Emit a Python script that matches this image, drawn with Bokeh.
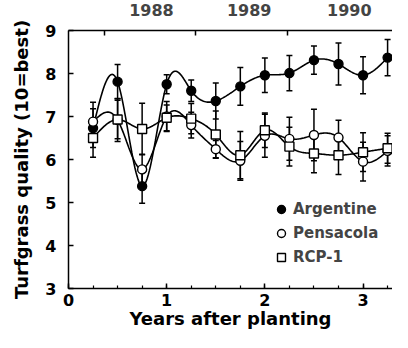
import numpy as np
from bokeh.plotting import figure
from bokeh.models import (LinearAxis, FixedTicker, SingleIntervalTicker, Whisker, TeeHead,
                          ColumnDataSource, Legend, LegendItem, Range1d)
from bokeh.embed import file_html
from bokeh.resources import INLINE

# ---- data ----
years = [0.25, 0.5, 0.75, 1.0, 1.25, 1.5, 1.75, 2.0, 2.25, 2.5, 2.75, 3.0, 3.25]
argentine = [6.73, 7.81, 5.38, 7.75, 7.60, 7.36, 7.70, 7.96, 8.01, 8.31, 8.22, 7.96, 8.37]
argentine_err = [0.45, 0.40, 0.40, 0.22, 0.25, 0.42, 0.44, 0.40, 0.41, 0.33, 0.49, 0.43, 0.42]
pensacola = [6.88, 6.92, 5.77, 7.00, 6.80, 6.24, 5.97, 6.55, 6.48, 6.57, 6.51, 5.95, 6.20]
pensacola_err = [0.45, 0.50, 0.35, 0.35, 0.30, 0.20, 0.45, 0.50, 0.50, 0.60, 0.40, 0.45, 0.35]
rcp1 = [6.50, 6.93, 6.71, 6.97, 6.95, 6.58, 6.10, 6.68, 6.30, 6.14, 6.10, 6.17, 6.26]
rcp1_err = [0.45, 0.45, 0.60, 0.30, 0.35, 0.55, 0.55, 0.40, 0.45, 0.45, 0.45, 0.45, 0.35]

year_label_pos = [0.845, 1.84, 2.86]
year_labels = ["1988", "1989", "1990"]
year_bounds = [0.37, 1.29, 2.23]

FONT = "DejaVu Sans"


def natural_spline(xs, ys, per=24):
    xs = np.asarray(xs, float)
    ys = np.asarray(ys, float)
    n = len(xs)
    h = np.diff(xs)
    A = np.zeros((n - 2, n - 2))
    r = np.zeros(n - 2)
    for i in range(1, n - 1):
        A[i - 1, i - 1] = 2 * (h[i - 1] + h[i])
        if i - 2 >= 0:
            A[i - 1, i - 2] = h[i - 1]
        if i < n - 2:
            A[i - 1, i] = h[i]
        r[i - 1] = 6 * ((ys[i + 1] - ys[i]) / h[i] - (ys[i] - ys[i - 1]) / h[i - 1])
    M = np.zeros(n)
    M[1:-1] = np.linalg.solve(A, r)
    outx, outy = [], []
    for i in range(n - 1):
        t = np.linspace(xs[i], xs[i + 1], per, endpoint=(i == n - 2))
        a = xs[i + 1] - t
        b = t - xs[i]
        y = (M[i] * a ** 3 + M[i + 1] * b ** 3) / (6 * h[i]) \
            + (ys[i] / h[i] - M[i] * h[i] / 6) * a + (ys[i + 1] / h[i] - M[i + 1] * h[i] / 6) * b
        outx.extend(t)
        outy.extend(y)
    return outx, outy


p = figure(width=392, height=332, x_range=Range1d(0, 3.3), y_range=Range1d(3, 9),
           output_backend="svg", toolbar_location=None,
           min_border_left=68, min_border_right=0, min_border_top=29, min_border_bottom=44)
p.outline_line_color = None
p.xgrid.visible = False
p.ygrid.visible = False
p.background_fill_color = "white"
p.border_fill_color = "white"

# bottom axis
xa = p.xaxis[0]
xa.ticker = SingleIntervalTicker(interval=1, num_minor_ticks=4)
xa.axis_label = "Years after planting"
yax = p.yaxis[0]
yax.ticker = SingleIntervalTicker(interval=1, num_minor_ticks=0)
yax.axis_label = "Turfgrass quality (10=best)"
for ax in (xa, yax):
    ax.axis_line_width = 1.5
    ax.axis_line_color = "black"
    ax.major_tick_in = 5
    ax.major_tick_out = 0
    ax.major_tick_line_width = 1.5
    ax.minor_tick_in = 3
    ax.minor_tick_out = 0
    ax.minor_tick_line_width = 1.2
    ax.major_label_text_font = FONT
    ax.major_label_text_font_style = "bold"
    ax.major_label_text_font_size = "16px"
    ax.major_label_text_color = "black"
    ax.axis_label_text_font = FONT
    ax.axis_label_text_font_style = "bold"
    ax.axis_label_text_font_size = "18px"
    ax.axis_label_text_color = "black"
xa.major_label_standoff = 5
xa.axis_label_standoff = -1
yax.major_label_standoff = 12
yax.axis_label_standoff = 10
yax.minor_tick_line_color = None

top = LinearAxis(ticker=FixedTicker(ticks=year_label_pos, minor_ticks=year_bounds),
                 major_label_overrides={v: s for v, s in zip(year_label_pos, year_labels)},
                 major_tick_line_color=None, minor_tick_in=5, minor_tick_out=0,
                 minor_tick_line_width=1.5, axis_line_width=1.5,
                 major_label_text_font=FONT, major_label_text_font_style="bold",
                 major_label_text_font_size="16px", major_label_standoff=9)
p.add_layout(top, "above")

series = [
    (argentine, argentine_err, "Argentine", "circle", "black"),
    (pensacola, pensacola_err, "Pensacola", "circle", "white"),
    (rcp1, rcp1_err, "RCP-1", "square", "white"),
]

marker_renderers = []
for vals, errs, name, marker, fill in series:
    sx, sy = natural_spline(years, vals)
    p.line(sx, sy, line_color="black", line_width=1.6)
for vals, errs, name, marker, fill in series:
    src = ColumnDataSource(dict(x=years, y=vals,
                                lo=[v - e for v, e in zip(vals, errs)],
                                hi=[v + e for v, e in zip(vals, errs)]))
    w = Whisker(source=src, base="x", lower="lo", upper="hi", line_width=1.5, line_color="black",
                upper_head=TeeHead(size=6, line_width=1.5, line_color="black"),
                lower_head=TeeHead(size=6, line_width=1.5, line_color="black"))
    p.add_layout(w)
for vals, errs, name, marker, fill in series:
    src = ColumnDataSource(dict(x=years, y=vals))
    r = p.scatter("x", "y", source=src, marker=marker, size=9,
                  fill_color=fill, line_color="black", line_width=1.4)
    marker_renderers.append((name, r))

legend = Legend(items=[LegendItem(label=n, renderers=[r]) for n, r in marker_renderers],
                location=(203, 21), glyph_width=20, glyph_height=20, label_height=20,
                spacing=4, padding=0, margin=0, label_standoff=2,
                background_fill_alpha=0, border_line_color=None,
                label_text_font=FONT, label_text_font_style="bold", label_text_font_size="15px")
p.add_layout(legend)

open("out.html", "w").write(file_html(p, INLINE))
